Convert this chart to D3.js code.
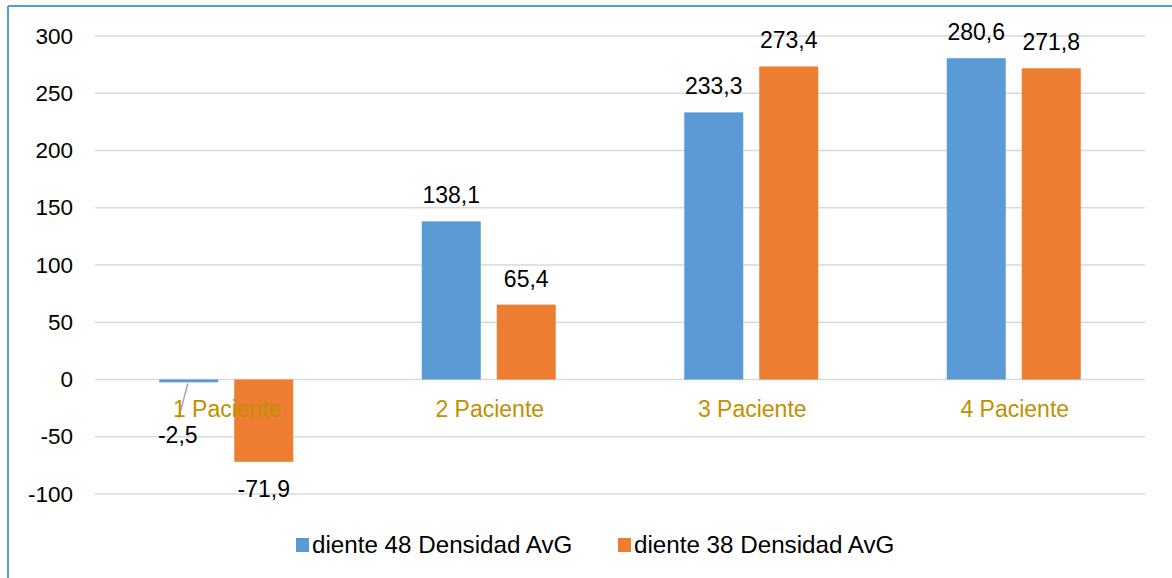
<!DOCTYPE html>
<html>
<head>
<meta charset="utf-8">
<script src="https://cdn.jsdelivr.net/npm/d3@7/dist/d3.min.js"></script>
<style>
  html, body { margin: 0; padding: 0; background: #fff; }
  svg { display: block; font-family: "Liberation Sans", Arial, sans-serif; }
</style>
</head>
<body>
<svg id="chart" width="1172" height="578"></svg>
<script>
// Patients and per-series average density values
const categories = ["1 Paciente", "2 Paciente", "3 Paciente", "4 Paciente"];
const seriesNames = ["diente 48 Densidad AvG", "diente 38 Densidad AvG"];
const diente48 = [-2.5, 138.1, 233.3, 280.6];
const diente38 = [-71.9, 65.4, 273.4, 271.8];
const yTicks = [-100, -50, 0, 50, 100, 150, 200, 250, 300];
const colors = ["#5B9BD5", "#ED7D31"];

const seriesValues = [diente48, diente38];
const svg = d3.select("#chart");

// Decimal comma and plain hyphen for negatives
const fmt = v => d3.format(".1f")(v).replace(".", ",").replace("\u2212", "-");

const y = d3.scaleLinear().domain([-100, 300]).range([494, 36]);
const x = d3.scaleBand().domain(categories).range([95, 1145]).padding(0);
const groupWidth = 134;
const xInner = d3.scaleBand().domain(seriesNames).range([0, groupWidth]).paddingInner(0.2133);

// Outer frame (top and left edges)
svg.append("line").attr("x1", 8).attr("x2", 1172).attr("y1", 6).attr("y2", 6)
  .attr("stroke", "#5B9BD5").attr("stroke-width", 2);
svg.append("line").attr("x1", 8).attr("x2", 8).attr("y1", 6).attr("y2", 578)
  .attr("stroke", "#5B9BD5").attr("stroke-width", 2);

// Horizontal gridlines and value axis labels
const yAxis = d3.axisLeft(y).tickValues(yTicks).tickSize(0).tickPadding(0)
  .tickFormat(d => String(d));
const gy = svg.append("g").attr("transform", "translate(73,0)").call(yAxis);
gy.select(".domain").remove();
gy.selectAll("text").attr("font-size", 22.5).attr("fill", "#000")
  .attr("font-family", "'Liberation Sans', Arial, sans-serif");

svg.append("g").selectAll("line").data(yTicks).join("line")
  .attr("x1", 95).attr("x2", 1145)
  .attr("y1", d => y(d)).attr("y2", d => y(d))
  .attr("stroke", "#D9D9D9").attr("stroke-width", 1.5);

// Bars
const groups = svg.append("g").selectAll("g").data(categories).join("g")
  .attr("transform", d => `translate(${x(d) + x.bandwidth() / 2 - groupWidth / 2},0)`);

seriesNames.forEach((name, si) => {
  groups.append("rect")
    .attr("x", xInner(name))
    .attr("width", xInner.bandwidth())
    .attr("y", (d, i) => y(Math.max(0, seriesValues[si][i])))
    .attr("height", (d, i) => Math.abs(y(seriesValues[si][i]) - y(0)))
    .attr("fill", colors[si]);
});

// Category labels sitting just under the zero line
svg.append("g").selectAll("text").data(categories).join("text")
  .attr("x", d => x(d) + x.bandwidth() / 2 + 1)
  .attr("y", y(0) + 37)
  .attr("text-anchor", "middle")
  .attr("font-size", 23)
  .attr("fill", "#BF9000")
  .text(d => d);

// Data labels
seriesNames.forEach((name, si) => {
  groups.each(function (cat, i) {
    const v = seriesValues[si][i];
    const g = d3.select(this);
    const cx = xInner(name) + xInner.bandwidth() / 2;
    let tx = cx, ty;
    if (v >= 0) {
      ty = y(v) - 18;
    } else if (v < -10) {
      ty = y(v) + 35;
    } else {
      // small negative value: label moved down with a leader line
      tx = cx - 11;
      ty = y(v) + 61;
      g.append("line")
        .attr("x1", cx - 1).attr("y1", y(v) + 1)
        .attr("x2", cx - 10).attr("y2", y(v) + 36)
        .attr("stroke", "#A6A6A6").attr("stroke-width", 1.5);
    }
    g.append("text")
      .attr("x", tx).attr("y", ty)
      .attr("text-anchor", "middle")
      .attr("font-size", 23)
      .attr("fill", "#000")
      .text(fmt(v));
  });
});

// Legend
const legendX = [296, 618];
const legend = svg.append("g").selectAll("g").data(seriesNames).join("g")
  .attr("transform", (d, i) => `translate(${legendX[i]},538)`);
legend.append("rect").attr("width", 13).attr("height", 14)
  .attr("fill", (d, i) => colors[i]);
legend.append("text").attr("x", 16).attr("y", 15)
  .attr("font-size", 24.2).attr("fill", "#000")
  .text(d => d);
</script>
</body>
</html>
